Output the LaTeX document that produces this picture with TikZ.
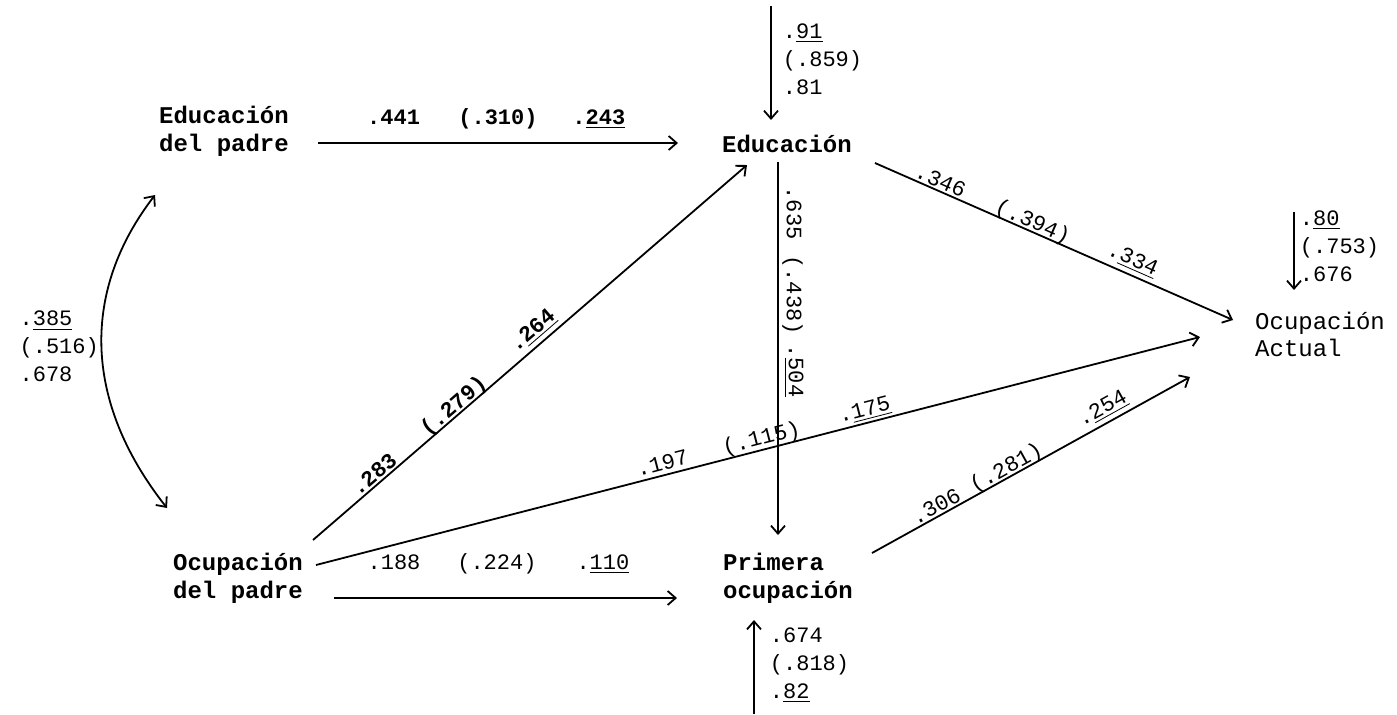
\documentclass[tikz,border=0pt]{standalone}
\usepackage{fontspec}
\setmainfont{Liberation Mono}
\usetikzlibrary{arrows.meta,calc}

\tikzset{
  var/.style={font=\fontsize{12}{14}\selectfont\bfseries,align=left,inner sep=0pt},
  coef/.style={font=\fontsize{11}{14}\selectfont,inner sep=0pt,text depth=0pt},
  coefb/.style={coef,font=\fontsize{11}{14}\selectfont\bfseries},
  resid/.style={font=\fontsize{11}{14}\selectfont,align=left,inner sep=0pt},
  flecha/.style={->,line width=0.9pt},
  doble/.style={<->,line width=0.9pt},
}

\begin{document}
\begin{tikzpicture}[x=0.5pt,y=-0.5pt,>={Straight Barb[length=4pt,width=7pt]}]
  \useasboundingbox (0,0) rectangle (1397,714);
  % Variables
  \node[var] (edpad) at (224,131) {Educación\\del padre};
  \node[var] (ocpad) at (238,578) {Ocupación\\del padre};
  \node[var] (edu) at (787,144) {Educación};
  \node[var] (prim) at (788,578) {Primera\\ocupación};
  \node[var,font=\fontsize{12}{13.5}\selectfont] (act) at (1320,334) {Ocupación\\Actual};
  % Residual paths (free ends)
  \coordinate (uedu) at (771,6);
  \coordinate (uact) at (1294,212);
  \coordinate (uprim) at (754,714);

  % Correlation of the two exogenous variables
  \draw[doble] ($(edpad)+(-69,64)$) .. controls (82,290) and (82,400) .. ($(ocpad)+(-71,-70)$)
    node[resid,pos=.5,left=1pt]{.\underline{385}\\(.516)\\.678};

  % Paths into Educacion
  \draw[flecha] ($(edpad)+(94,12)$) -- ($(edu)+(-109,-1)$)
    node[coefb,pos=.21,above=9pt]{.441}
    node[coefb,pos=.50,above=9pt]{(.310)}
    node[coefb,pos=.78,above=9pt]{.\underline{243}};
  \draw[flecha] ($(ocpad)+(75,-38)$) -- ($(edu)+(-40,21)$)
    node[coefb,sloped,pos=.155,above=1pt]{.283}
    node[coefb,sloped,pos=.338,above=1pt]{(.279)}
    node[coefb,sloped,pos=.528,above=4pt]{.\underline{264}};
  \draw[flecha] (uedu) -- ($(edu)+(-16,-24)$)
    node[resid,pos=.47,right=5.5pt]{.\underline{91}\\(.859)\\.81};

  % Paths into Primera ocupacion
  \draw[flecha] ($(ocpad)+(96,20)$) -- ($(prim)+(-111,20)$)
    node[coef,pos=.175,above=14pt]{.188}
    node[coef,pos=.475,above=14pt]{(.224)}
    node[coef,pos=.784,above=14pt]{.\underline{110}};
  \draw[flecha] ($(edu)+(-9,18)$) -- ($(prim)+(-10,-43)$)
    node[coef,pos=.137,anchor=south,xshift=4pt,rotate=-90]{.635}
    node[coef,pos=.357,anchor=south,xshift=4pt,rotate=-90]{(.438)}
    node[coef,pos=.56,anchor=south,xshift=5pt,rotate=-90]{.\underline{504}};
  \draw[flecha] (uprim) -- ($(prim)+(-34,42)$)
    node[resid,pos=.52,right=7.5pt]{.674\\(.818)\\.\underline{82}};

  % Paths into Ocupacion Actual
  \draw[flecha] ($(edu)+(88,19)$) -- ($(act)+(-87,-14)$)
    node[coef,sloped,pos=.172,above=1pt]{.346}
    node[coef,sloped,pos=.43,above=1pt]{(.394)}
    node[coef,sloped,pos=.703,above=4pt]{.\underline{334}};
  \draw[flecha] ($(ocpad)+(78,-13)$) -- ($(act)+(-120,3)$)
    node[coef,sloped,pos=.395,above=2pt]{.197}
    node[coef,sloped,pos=.507,above=2pt]{(.115)}
    node[coef,sloped,pos=.624,above=3pt]{.\underline{175}};
  \draw[flecha] ($(prim)+(84,-25)$) -- ($(act)+(-130,43)$)
    node[coef,sloped,pos=.216,above=1pt]{.306}
    node[coef,sloped,pos=.436,above=1pt]{(.281)}
    node[coef,sloped,pos=.747,above=4pt]{.\underline{254}};
  \draw[flecha] (uact) -- ($(act)+(-26,-44)$)
    node[resid,pos=.44,right=2.5pt]{.\underline{80}\\(.753)\\.676};
\end{tikzpicture}
\end{document}
